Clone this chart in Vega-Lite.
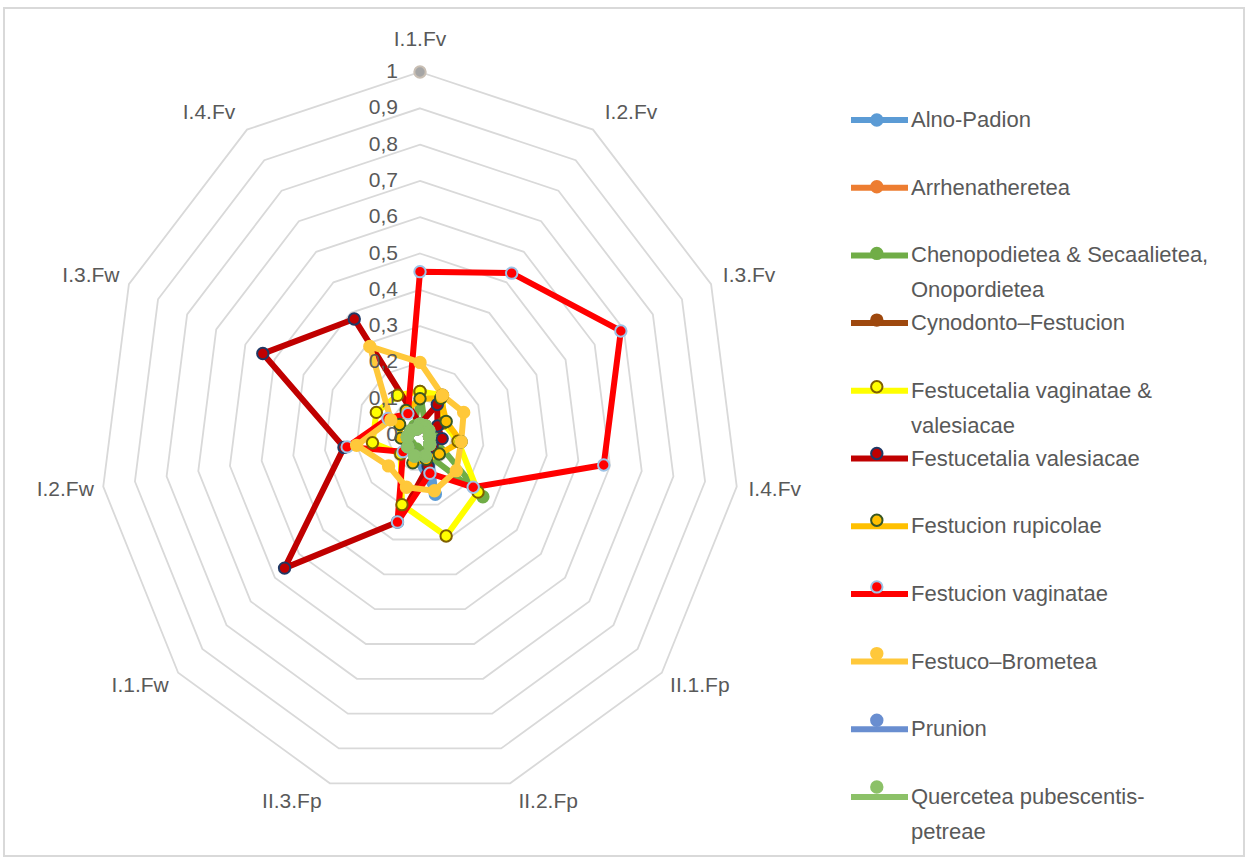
{
  "$schema": "https://vega.github.io/schema/vega-lite/v6.json",
  "width": 1240,
  "height": 848,
  "padding": {"left": 4, "top": 8, "right": 2, "bottom": 3},
  "autosize": {"type": "none"},
  "background": "white",
  "config": {
    "view": {"stroke": "#D9D9D9", "strokeWidth": 2},
    "font": "Liberation Sans"
  },
  "datasets": {
    "rings": [
      {"level": 0.1, "k": [0,1,2,3,4,5,6,7,8,9,10]},
      {"level": 0.2, "k": [0,1,2,3,4,5,6,7,8,9,10]},
      {"level": 0.3, "k": [0,1,2,3,4,5,6,7,8,9,10]},
      {"level": 0.4, "k": [0,1,2,3,4,5,6,7,8,9,10]},
      {"level": 0.5, "k": [0,1,2,3,4,5,6,7,8,9,10]},
      {"level": 0.6, "k": [0,1,2,3,4,5,6,7,8,9,10]},
      {"level": 0.7, "k": [0,1,2,3,4,5,6,7,8,9,10]},
      {"level": 0.8, "k": [0,1,2,3,4,5,6,7,8,9,10]},
      {"level": 0.9, "k": [0,1,2,3,4,5,6,7,8,9,10]},
      {"level": 1.0, "k": [0,1,2,3,4,5,6,7,8,9,10]}
    ],
    "ringLabels": [
      {"level": 0, "text": "0"}, {"level": 0.1, "text": "0,1"}, {"level": 0.2, "text": "0,2"},
      {"level": 0.3, "text": "0,3"}, {"level": 0.4, "text": "0,4"}, {"level": 0.5, "text": "0,5"},
      {"level": 0.6, "text": "0,6"}, {"level": 0.7, "text": "0,7"}, {"level": 0.8, "text": "0,8"},
      {"level": 0.9, "text": "0,9"}, {"level": 1.0, "text": "1"}
    ],
    "axes": [
      {"k": 0, "axis": "I.1.Fv"}, {"k": 1, "axis": "I.2.Fv"}, {"k": 2, "axis": "I.3.Fv"},
      {"k": 3, "axis": "I.4.Fv"}, {"k": 4, "axis": "II.1.Fp"}, {"k": 5, "axis": "II.2.Fp"},
      {"k": 6, "axis": "II.3.Fp"}, {"k": 7, "axis": "I.1.Fw"}, {"k": 8, "axis": "I.2.Fw"},
      {"k": 9, "axis": "I.3.Fw"}, {"k": 10, "axis": "I.4.Fv"}
    ],
    "maximum": [{"k": 0, "value": 1}],
    "scores": [
      {"community": "Alno-Padion", "k": 0, "value": 0.03}, {"community": "Alno-Padion", "k": 1, "value": 0.03},
      {"community": "Alno-Padion", "k": 2, "value": 0.03}, {"community": "Alno-Padion", "k": 3, "value": 0.03},
      {"community": "Alno-Padion", "k": 4, "value": 0.04}, {"community": "Alno-Padion", "k": 5, "value": 0.17},
      {"community": "Alno-Padion", "k": 6, "value": 0.06}, {"community": "Alno-Padion", "k": 7, "value": 0.05},
      {"community": "Alno-Padion", "k": 8, "value": 0.04}, {"community": "Alno-Padion", "k": 9, "value": 0.03},
      {"community": "Alno-Padion", "k": 10, "value": 0.02},

      {"community": "Arrhenatheretea", "k": 0, "value": 0.03}, {"community": "Arrhenatheretea", "k": 1, "value": 0.03},
      {"community": "Arrhenatheretea", "k": 2, "value": 0.03}, {"community": "Arrhenatheretea", "k": 3, "value": 0.03},
      {"community": "Arrhenatheretea", "k": 4, "value": 0.04}, {"community": "Arrhenatheretea", "k": 5, "value": 0.06},
      {"community": "Arrhenatheretea", "k": 6, "value": 0.06}, {"community": "Arrhenatheretea", "k": 7, "value": 0.05},
      {"community": "Arrhenatheretea", "k": 8, "value": 0.04}, {"community": "Arrhenatheretea", "k": 9, "value": 0.03},
      {"community": "Arrhenatheretea", "k": 10, "value": 0.02},

      {"community": "Chenopodietea & Secaalietea, Onopordietea", "k": 0, "value": 0.12},
      {"community": "Chenopodietea & Secaalietea, Onopordietea", "k": 1, "value": 0.03},
      {"community": "Chenopodietea & Secaalietea, Onopordietea", "k": 2, "value": 0.03},
      {"community": "Chenopodietea & Secaalietea, Onopordietea", "k": 3, "value": 0.04},
      {"community": "Chenopodietea & Secaalietea, Onopordietea", "k": 4, "value": 0.26},
      {"community": "Chenopodietea & Secaalietea, Onopordietea", "k": 5, "value": 0.05},
      {"community": "Chenopodietea & Secaalietea, Onopordietea", "k": 6, "value": 0.04},
      {"community": "Chenopodietea & Secaalietea, Onopordietea", "k": 7, "value": 0.04},
      {"community": "Chenopodietea & Secaalietea, Onopordietea", "k": 8, "value": 0.04},
      {"community": "Chenopodietea & Secaalietea, Onopordietea", "k": 9, "value": 0.03},
      {"community": "Chenopodietea & Secaalietea, Onopordietea", "k": 10, "value": 0.03},

      {"community": "Cynodonto–Festucion", "k": 0, "value": 0.03}, {"community": "Cynodonto–Festucion", "k": 1, "value": 0.03},
      {"community": "Cynodonto–Festucion", "k": 2, "value": 0.03}, {"community": "Cynodonto–Festucion", "k": 3, "value": 0.03},
      {"community": "Cynodonto–Festucion", "k": 4, "value": 0.04}, {"community": "Cynodonto–Festucion", "k": 5, "value": 0.06},
      {"community": "Cynodonto–Festucion", "k": 6, "value": 0.06}, {"community": "Cynodonto–Festucion", "k": 7, "value": 0.05},
      {"community": "Cynodonto–Festucion", "k": 8, "value": 0.04}, {"community": "Cynodonto–Festucion", "k": 9, "value": 0.03},
      {"community": "Cynodonto–Festucion", "k": 10, "value": 0.02},

      {"community": "Festucetalia vaginatae & valesiacae", "k": 0, "value": 0.12},
      {"community": "Festucetalia vaginatae & valesiacae", "k": 1, "value": 0.13},
      {"community": "Festucetalia vaginatae & valesiacae", "k": 2, "value": 0.08},
      {"community": "Festucetalia vaginatae & valesiacae", "k": 3, "value": 0.12},
      {"community": "Festucetalia vaginatae & valesiacae", "k": 4, "value": 0.24},
      {"community": "Festucetalia vaginatae & valesiacae", "k": 5, "value": 0.29},
      {"community": "Festucetalia vaginatae & valesiacae", "k": 6, "value": 0.20},
      {"community": "Festucetalia vaginatae & valesiacae", "k": 7, "value": 0.08},
      {"community": "Festucetalia vaginatae & valesiacae", "k": 8, "value": 0.15},
      {"community": "Festucetalia vaginatae & valesiacae", "k": 9, "value": 0.15},
      {"community": "Festucetalia vaginatae & valesiacae", "k": 10, "value": 0.13},

      {"community": "Festucetalia valesiacae", "k": 0, "value": 0.03}, {"community": "Festucetalia valesiacae", "k": 1, "value": 0.10},
      {"community": "Festucetalia valesiacae", "k": 2, "value": 0.06}, {"community": "Festucetalia valesiacae", "k": 3, "value": 0.07},
      {"community": "Festucetalia valesiacae", "k": 4, "value": 0.05}, {"community": "Festucetalia valesiacae", "k": 5, "value": 0.09},
      {"community": "Festucetalia valesiacae", "k": 6, "value": 0.25}, {"community": "Festucetalia valesiacae", "k": 7, "value": 0.56},
      {"community": "Festucetalia valesiacae", "k": 8, "value": 0.24}, {"community": "Festucetalia valesiacae", "k": 9, "value": 0.54},
      {"community": "Festucetalia valesiacae", "k": 10, "value": 0.38},

      {"community": "Festucion rupicolae", "k": 0, "value": 0.10}, {"community": "Festucion rupicolae", "k": 1, "value": 0.12},
      {"community": "Festucion rupicolae", "k": 2, "value": 0.09}, {"community": "Festucion rupicolae", "k": 3, "value": 0.13},
      {"community": "Festucion rupicolae", "k": 4, "value": 0.08}, {"community": "Festucion rupicolae", "k": 5, "value": 0.07},
      {"community": "Festucion rupicolae", "k": 6, "value": 0.08}, {"community": "Festucion rupicolae", "k": 7, "value": 0.05},
      {"community": "Festucion rupicolae", "k": 8, "value": 0.06}, {"community": "Festucion rupicolae", "k": 9, "value": 0.07},
      {"community": "Festucion rupicolae", "k": 10, "value": 0.08},

      {"community": "Festucion vaginatae", "k": 0, "value": 0.45}, {"community": "Festucion vaginatae", "k": 1, "value": 0.53},
      {"community": "Festucion vaginatae", "k": 2, "value": 0.69}, {"community": "Festucion vaginatae", "k": 3, "value": 0.58},
      {"community": "Festucion vaginatae", "k": 4, "value": 0.22}, {"community": "Festucion vaginatae", "k": 5, "value": 0.11},
      {"community": "Festucion vaginatae", "k": 6, "value": 0.25}, {"community": "Festucion vaginatae", "k": 7, "value": 0.07},
      {"community": "Festucion vaginatae", "k": 8, "value": 0.23}, {"community": "Festucion vaginatae", "k": 9, "value": 0.11},
      {"community": "Festucion vaginatae", "k": 10, "value": 0.07},

      {"community": "Festuco–Brometea", "k": 0, "value": 0.20}, {"community": "Festuco–Brometea", "k": 1, "value": 0.13},
      {"community": "Festuco–Brometea", "k": 2, "value": 0.15}, {"community": "Festuco–Brometea", "k": 3, "value": 0.13},
      {"community": "Festuco–Brometea", "k": 4, "value": 0.15}, {"community": "Festuco–Brometea", "k": 5, "value": 0.16},
      {"community": "Festuco–Brometea", "k": 6, "value": 0.15}, {"community": "Festuco–Brometea", "k": 7, "value": 0.13},
      {"community": "Festuco–Brometea", "k": 8, "value": 0.20}, {"community": "Festuco–Brometea", "k": 9, "value": 0.10},
      {"community": "Festuco–Brometea", "k": 10, "value": 0.29},

      {"community": "Prunion", "k": 0, "value": 0.03}, {"community": "Prunion", "k": 1, "value": 0.03},
      {"community": "Prunion", "k": 2, "value": 0.03}, {"community": "Prunion", "k": 3, "value": 0.03},
      {"community": "Prunion", "k": 4, "value": 0.04}, {"community": "Prunion", "k": 5, "value": 0.06},
      {"community": "Prunion", "k": 6, "value": 0.06}, {"community": "Prunion", "k": 7, "value": 0.05},
      {"community": "Prunion", "k": 8, "value": 0.04}, {"community": "Prunion", "k": 9, "value": 0.03},
      {"community": "Prunion", "k": 10, "value": 0.02},

      {"community": "Quercetea pubescentis-petreae", "k": 0, "value": 0.03},
      {"community": "Quercetea pubescentis-petreae", "k": 1, "value": 0.03},
      {"community": "Quercetea pubescentis-petreae", "k": 2, "value": 0.03},
      {"community": "Quercetea pubescentis-petreae", "k": 3, "value": 0.03},
      {"community": "Quercetea pubescentis-petreae", "k": 4, "value": 0.04},
      {"community": "Quercetea pubescentis-petreae", "k": 5, "value": 0.06},
      {"community": "Quercetea pubescentis-petreae", "k": 6, "value": 0.06},
      {"community": "Quercetea pubescentis-petreae", "k": 7, "value": 0.05},
      {"community": "Quercetea pubescentis-petreae", "k": 8, "value": 0.04},
      {"community": "Quercetea pubescentis-petreae", "k": 9, "value": 0.03},
      {"community": "Quercetea pubescentis-petreae", "k": 10, "value": 0.02}
    ]
  },
  "encoding": {
    "x": {"field": "px", "type": "quantitative", "scale": {"domain": [-1.3, 2.575], "nice": false, "zero": false}, "axis": null},
    "y": {"field": "py", "type": "quantitative", "scale": {"domain": [-1.15978, 1.17631], "nice": false, "zero": false}, "axis": null}
  },
  "layer": [
    {
      "data": {"name": "rings"},
      "transform": [
        {"flatten": ["k"]},
        {"calculate": "datum.level * sin(2 * PI * datum.k / 11)", "as": "px"},
        {"calculate": "datum.level * cos(2 * PI * datum.k / 11)", "as": "py"}
      ],
      "mark": {"type": "line", "interpolate": "linear-closed", "stroke": "#D9D9D9", "strokeWidth": 1.8},
      "encoding": {
        "detail": {"field": "level", "type": "nominal"},
        "order": {"field": "k", "type": "quantitative"}
      }
    },
    {
      "data": {"name": "scores"},
      "transform": [
        {"calculate": "datum.value * sin(2 * PI * datum.k / 11)", "as": "px"},
        {"calculate": "datum.value * cos(2 * PI * datum.k / 11)", "as": "py"}
      ],
      "mark": {"type": "line", "interpolate": "linear-closed", "strokeWidth": 6, "strokeJoin": "round"},
      "encoding": {
        "stroke": {
          "field": "community", "type": "nominal",
          "scale": {
            "domain": ["Alno-Padion", "Arrhenatheretea", "Chenopodietea & Secaalietea, Onopordietea", "Cynodonto–Festucion", "Festucetalia vaginatae & valesiacae", "Festucetalia valesiacae", "Festucion rupicolae", "Festucion vaginatae", "Festuco–Brometea", "Prunion", "Quercetea pubescentis-petreae"],
            "range": ["#5B9BD5", "#ED7D31", "#70AD47", "#9E480E", "#FFFF00", "#C00000", "#FFC000", "#FF0000", "#FFC83A", "#698ED0", "#8CC168"]
          },
          "legend": {
            "orient": "none", "legendX": 886, "legendY": 101, "title": null, "padding": 0,
            "symbolType": "M-10,0H1.4", "symbolSize": 100, "symbolStrokeWidth": 6,
            "labelFontSize": 22, "labelColor": "#595959", "labelFont": "Liberation Sans", "labelLimit": 600,
            "labelOffset": -1, "labelBaseline": "middle", "rowPadding": 9.7,
            "labelExpr": "datum.label == 'Chenopodietea & Secaalietea, Onopordietea' ? ['Chenopodietea & Secaalietea,', 'Onopordietea'] : datum.label == 'Festucetalia vaginatae & valesiacae' ? ['Festucetalia vaginatae &', 'valesiacae'] : datum.label == 'Quercetea pubescentis-petreae' ? ['Quercetea pubescentis-', 'petreae'] : [datum.label, '']",
            "encode": {"labels": {"update": {"lineHeight": {"value": 35}}}}
          }
        },
        "order": {"field": "k", "type": "quantitative"}
      }
    },
    {
      "data": {"name": "scores"},
      "transform": [
        {"calculate": "datum.value * sin(2 * PI * datum.k / 11)", "as": "px"},
        {"calculate": "datum.value * cos(2 * PI * datum.k / 11)", "as": "py"}
      ],
      "mark": {"type": "point", "shape": "circle", "filled": true, "size": 130, "strokeWidth": 2, "opacity": 1},
      "encoding": {
        "fill": {
          "field": "community", "type": "nominal",
          "scale": {
            "domain": ["Alno-Padion", "Arrhenatheretea", "Chenopodietea & Secaalietea, Onopordietea", "Cynodonto–Festucion", "Festucetalia vaginatae & valesiacae", "Festucetalia valesiacae", "Festucion rupicolae", "Festucion vaginatae", "Festuco–Brometea", "Prunion", "Quercetea pubescentis-petreae"],
            "range": ["#5B9BD5", "#ED7D31", "#70AD47", "#9E480E", "#FFFF00", "#C00000", "#FFC000", "#FF0000", "#FFC83A", "#698ED0", "#8CC168"]
          },
          "legend": {
            "orient": "none", "legendX": 861.8, "legendY": 101, "title": null, "padding": 0,
            "symbolType": "circle", "symbolSize": 130, "symbolStrokeWidth": 2, "symbolOpacity": 1,
            "labelFontSize": 22, "labelColor": "#595959", "labelFont": "Liberation Sans", "labelLimit": 600,
            "labelOffset": 0, "labelBaseline": "middle", "rowPadding": 9.7,
            "labelExpr": "['', '']",
            "encode": {"labels": {"update": {"lineHeight": {"value": 35}}}}
          }
        },
        "stroke": {
          "field": "community", "type": "nominal",
          "scale": {
            "domain": ["Alno-Padion", "Arrhenatheretea", "Chenopodietea & Secaalietea, Onopordietea", "Cynodonto–Festucion", "Festucetalia vaginatae & valesiacae", "Festucetalia valesiacae", "Festucion rupicolae", "Festucion vaginatae", "Festuco–Brometea", "Prunion", "Quercetea pubescentis-petreae"],
            "range": ["#5B9BD5", "#ED7D31", "#70AD47", "#9E480E", "#7F6000", "#203864", "#385723", "#9DC3E6", "#FFC83A", "#698ED0", "#8CC168"]
          },
          "legend": {
            "orient": "none", "legendX": 861.8, "legendY": 101, "title": null, "padding": 0,
            "symbolType": "circle", "symbolSize": 130, "symbolStrokeWidth": 2, "symbolOpacity": 1,
            "labelFontSize": 22, "labelColor": "#595959", "labelFont": "Liberation Sans", "labelLimit": 600,
            "labelOffset": 0, "labelBaseline": "middle", "rowPadding": 9.7,
            "labelExpr": "['', '']",
            "encode": {"labels": {"update": {"lineHeight": {"value": 35}}}}
          }
        }
      }
    },
    {
      "data": {"name": "scores"},
      "transform": [
        {"filter": "datum.community == 'Quercetea pubescentis-petreae'"},
        {"calculate": "datum.value * sin(2 * PI * datum.k / 11)", "as": "px"},
        {"calculate": "datum.value * cos(2 * PI * datum.k / 11)", "as": "py"}
      ],
      "mark": {"type": "line", "interpolate": "linear-closed", "strokeWidth": 6, "strokeJoin": "round", "stroke": "#8CC168"},
      "encoding": {"order": {"field": "k", "type": "quantitative"}}
    },
    {
      "data": {"name": "scores"},
      "transform": [
        {"filter": "datum.community == 'Quercetea pubescentis-petreae'"},
        {"calculate": "datum.value * sin(2 * PI * datum.k / 11)", "as": "px"},
        {"calculate": "datum.value * cos(2 * PI * datum.k / 11)", "as": "py"}
      ],
      "mark": {"type": "point", "shape": "circle", "filled": true, "size": 130, "fill": "#8CC168", "stroke": "#8CC168", "strokeWidth": 2, "opacity": 1}
    },
    {
      "data": {"name": "maximum"},
      "transform": [
        {"calculate": "datum.value * sin(2 * PI * datum.k / 11)", "as": "px"},
        {"calculate": "datum.value * cos(2 * PI * datum.k / 11)", "as": "py"}
      ],
      "mark": {"type": "point", "shape": "circle", "filled": true, "size": 130, "fill": "#A6A6A6", "stroke": "#C9BFB4", "strokeWidth": 2, "opacity": 1}
    },
    {
      "data": {"name": "ringLabels"},
      "transform": [
        {"calculate": "0", "as": "px"},
        {"calculate": "datum.level", "as": "py"}
      ],
      "mark": {"type": "text", "align": "right", "baseline": "middle", "dx": -22, "fontSize": 21, "fill": "#595959", "font": "Liberation Sans"},
      "encoding": {"text": {"field": "text", "type": "nominal"}}
    },
    {
      "data": {"name": "axes"},
      "transform": [
        {"calculate": "sin(2 * PI * datum.k / 11)", "as": "sa"},
        {"calculate": "cos(2 * PI * datum.k / 11)", "as": "ca"},
        {"calculate": "datum.sa + (datum.k == 0 ? 0 : (datum.sa > 0 ? 38 : -38) / 320)", "as": "px"},
        {"calculate": "datum.ca + (datum.k == 0 ? 32 : 20 * datum.ca) / 363", "as": "py"}
      ],
      "mark": {"type": "text", "align": "center", "baseline": "middle", "fontSize": 21, "fill": "#595959", "font": "Liberation Sans"},
      "encoding": {"text": {"field": "axis", "type": "nominal"}}
    }
  ],
  "resolve": {"scale": {"stroke": "independent", "fill": "independent"}}
}
